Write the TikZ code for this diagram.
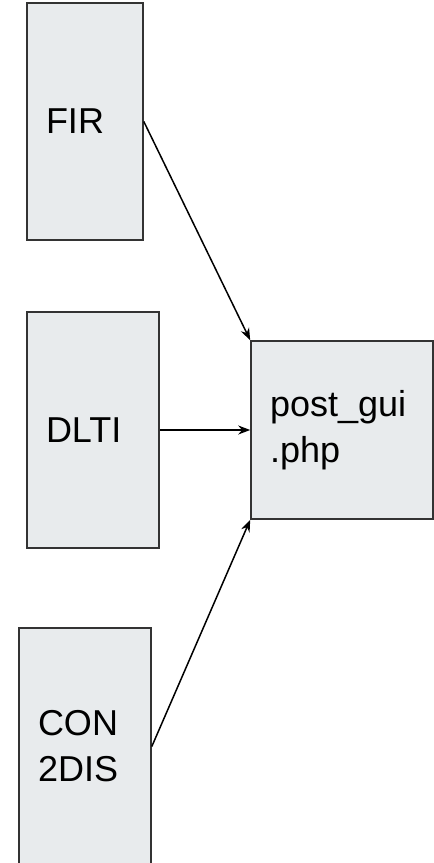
\documentclass[tikz,border=0pt]{standalone}
\usepackage{fontspec}
\setmainfont{Liberation Sans}
\usetikzlibrary{arrows.meta}
\definecolor{boxfill}{HTML}{E8EBED}
\definecolor{boxline}{HTML}{333333}
\tikzset{
    block/.style={draw=boxline, line width=1.6pt, fill=boxfill, rectangle,
        inner xsep=19pt, inner ysep=0pt, align=left,
        font=\fontsize{36}{46}\selectfont},
    feed/.style={line width=1.5pt, -{Stealth[length=12pt,width=9pt]}}
}
\begin{document}
\begin{tikzpicture}[x=1pt,y=1pt]
                \useasboundingbox (0,0) rectangle (434,-863);
                \begin{scope}
                \clip (0,0) rectangle (434,-863);
                \node[block, text width=78pt, minimum height=237pt] (fir) at (85,-121.5) {FIR};
                \node[block, text width=94pt, minimum height=236pt] (dlti) at (93,-430) {DLTI};
                \node[block, text width=94pt, minimum height=237pt] (con) at (85,-746.5) {CON\\2DIS};
                \node[block, text width=144pt, minimum height=178pt] (post) at (342,-430) {post\_gui\\.php};

                \draw[feed] (fir.east) -- (post.north west);
                \draw[feed] (dlti.east) -- (post.west);
                \draw[feed] (con.east) -- (post.south west);
                \end{scope}
            \end{tikzpicture}
\end{document}
